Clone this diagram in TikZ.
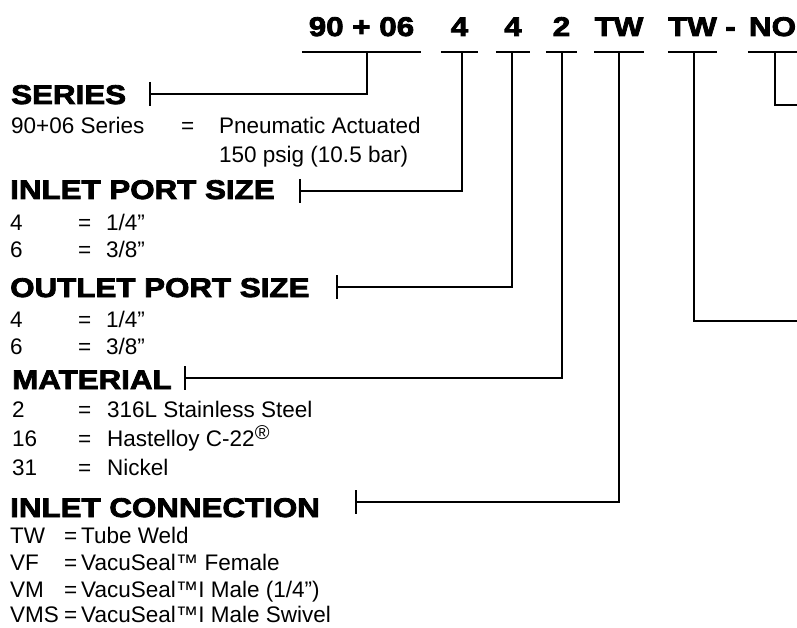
\documentclass[tikz,border=0pt]{standalone}
\usepackage{fontspec}
\setmainfont{Liberation Sans}
\newfontfamily\heavy[FakeStretch=1.16, FakeBold=3]{Liberation Sans Bold}
\usepackage{tikz}
\begin{document}
\begin{tikzpicture}[
    x=1pt, y=-1pt,
    code/.style={font=\heavy\fontsize{27}{27}\selectfont, inner sep=0pt, anchor=base},
    head/.style={font=\heavy\fontsize{27}{27}\selectfont, inner sep=0pt, anchor=base west},
    txt/.style={font=\fontsize{22.5}{22.5}\selectfont, inner sep=0pt, anchor=base west},
    lead/.style={line width=1.8pt, black}
  ]
    \useasboundingbox (0,0) rectangle (797,628);
    % part number
    \node[code, minimum width=119pt] (ser) at (361.5,36) {90 + 06};
    \node[code, minimum width=37pt] (inp) at (459.5,36) {4};
    \node[code, minimum width=34pt] (outp) at (513,36) {4};
    \node[code, minimum width=31pt] (mat) at (561.5,36) {2};
    \node[code, minimum width=48pt] (inc) at (619,36) {TW};
    \node[code, minimum width=47pt] (outc) at (692.5,36) {TW};
    \node[code] (dash) at (730.5,36) {-};
    \node[code, minimum width=49pt] (opt) at (772.5,36) {NO};
    \foreach \c in {ser,inp,outp,mat,inc,outc,opt}
      \draw[lead] ([yshift=-16pt]\c.base west) -- ([yshift=-16pt]\c.base east);
    % headings
    \node[head] (serH) at (11,104) {SERIES};
    \node[head] (inpH) at (10,199) {INLET PORT SIZE};
    \node[head] (outpH) at (10,297) {OUTLET PORT SIZE};
    \node[head] (matH) at (12,389) {MATERIAL};
    \node[head] (incH) at (10,517) {INLET CONNECTION};
    \coordinate (serT) at (150,94);
    \coordinate (inpT) at (300,191);
    \coordinate (outpT) at (337,287);
    \coordinate (matT) at (185,378);
    \coordinate (incT) at (356,502);
    \coordinate (outcT) at (797,321);
    \coordinate (optT) at (797,105);
    % leaders
    \draw[lead] ([xshift=5.5pt, yshift=-16pt]ser.base) |- (serT);
    \draw[lead] ([xshift=2.5pt, yshift=-16pt]inp.base) |- (inpT);
    \draw[lead] ([xshift=-1pt, yshift=-16pt]outp.base) |- (outpT);
    \draw[lead] ([xshift=0.5pt, yshift=-16pt]mat.base) |- (matT);
    \draw[lead] ([yshift=-16pt]inc.base) |- (incT);
    \draw[lead] ([xshift=1.5pt, yshift=-16pt]outc.base) |- (outcT);
    \draw[lead] ([xshift=2.5pt, yshift=-16pt]opt.base) |- (optT);
    \foreach \t in {serT,inpT,outpT,matT,incT}
      \draw[lead] ([yshift=12pt]\t) -- ([yshift=-12pt]\t);
    % series
    \node[txt] (ser1) at (11,134) {90+06 Series};
    \node[txt] (ser1e) at (181,134) {=};
    \node[txt] (ser1v) at (219,134) {Pneumatic Actuated};
    \node[txt] (ser2v) at (219,163) {150 psig (10.5 bar)};
    % inlet port size
    \node[txt] (inp1) at (10,231) {4};
    \node[txt] (inp1e) at (78,231) {=};
    \node[txt] (inp1v) at (106,231) {1/4”};
    \node[txt] (inp2) at (10,258) {6};
    \node[txt] (inp2e) at (78,258) {=};
    \node[txt] (inp2v) at (106,258) {3/8”};
    % outlet port size
    \node[txt] (outp1) at (10,327) {4};
    \node[txt] (outp1e) at (78,327) {=};
    \node[txt] (outp1v) at (106,327) {1/4”};
    \node[txt] (outp2) at (10,354) {6};
    \node[txt] (outp2e) at (78,354) {=};
    \node[txt] (outp2v) at (106,354) {3/8”};
    % material
    \node[txt] (mat1) at (12,417) {2};
    \node[txt] (mat1e) at (78,417) {=};
    \node[txt] (mat1v) at (107,417) {316L Stainless Steel};
    \node[txt] (mat2) at (12,446) {16};
    \node[txt] (mat2e) at (78,446) {=};
    \node[txt] (mat2v) at (107,446) {Hastelloy C-22\raisebox{0.3em}{\fontsize{20}{20}\selectfont ®}};
    \node[txt] (mat3) at (12,475) {31};
    \node[txt] (mat3e) at (78,475) {=};
    \node[txt] (mat3v) at (107,475) {Nickel};
    % inlet connection
    \node[txt] (inc1) at (10,543) {TW};
    \node[txt] (inc1e) at (64,543) {=};
    \node[txt] (inc1v) at (81,543) {Tube Weld};
    \node[txt] (inc2) at (10,570) {VF};
    \node[txt] (inc2e) at (64,570) {=};
    \node[txt] (inc2v) at (81,570) {VacuSeal™ Female};
    \node[txt] (inc3) at (10,597) {VM};
    \node[txt] (inc3e) at (64,597) {=};
    \node[txt] (inc3v) at (81,597) {VacuSeal™I Male (1/4”)};
    \node[txt] (inc4) at (10,622) {VMS};
    \node[txt] (inc4e) at (64,622) {=};
    \node[txt] (inc4v) at (81,622) {VacuSeal™I Male Swivel};
  \end{tikzpicture}
\end{document}
